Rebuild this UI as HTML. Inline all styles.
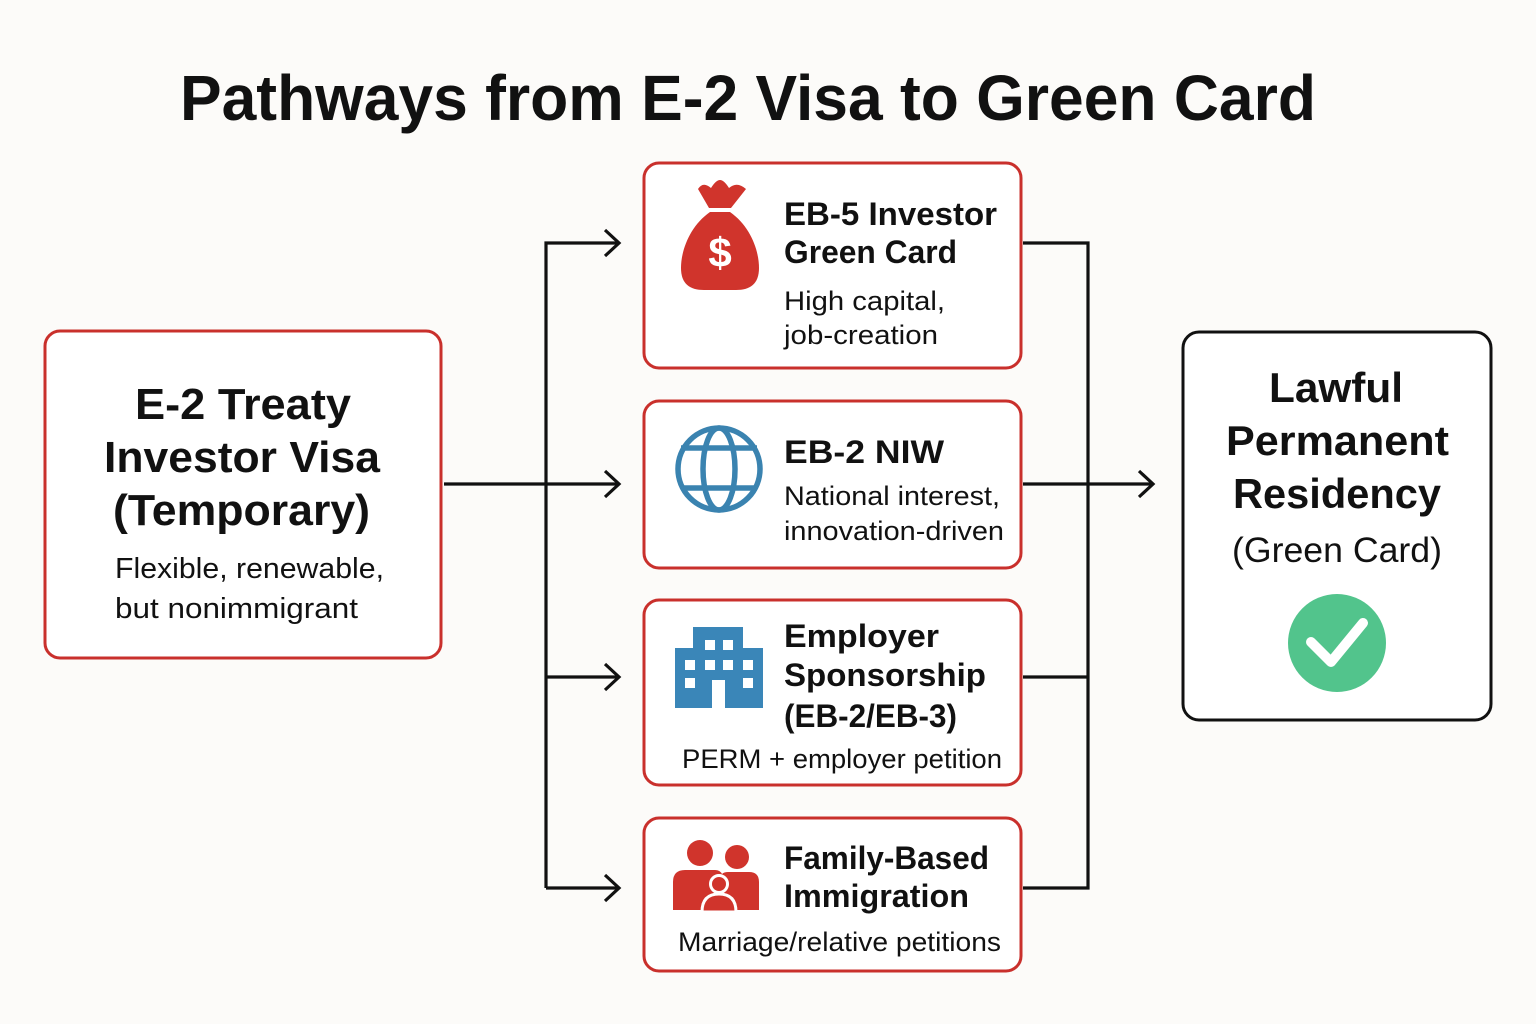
<!DOCTYPE html>
<html>
<head>
<meta charset="utf-8">
<style>
  html,body{margin:0;padding:0;background:#fcfbf9;}
  svg{display:block;}
  .b{font-family:"Liberation Sans",sans-serif;font-weight:bold;fill:#111;}
  .r{font-family:"Liberation Sans",sans-serif;font-weight:normal;fill:#111;}
</style>
</head>
<body>
<svg width="1536" height="1024" viewBox="0 0 1536 1024" xmlns="http://www.w3.org/2000/svg">
  <rect x="0" y="0" width="1536" height="1024" fill="#fcfbf9"/>

  <!-- Title -->
  <text class="b" x="180" y="120" font-size="64" textLength="1136" lengthAdjust="spacingAndGlyphs">Pathways from E-2 Visa to Green Card</text>

  <!-- Connectors -->
  <g stroke="#111" stroke-width="3.2" fill="none" stroke-linecap="butt">
    <line x1="444" y1="484" x2="619" y2="484"/>
    <polyline points="546,888 546,243 619,243"/>
    <line x1="546" y1="677" x2="619" y2="677"/>
    <line x1="546" y1="888" x2="619" y2="888"/>
    <!-- arrowheads left -->
    <polyline points="605,230 619,243 605,256"/>
    <polyline points="605,471 619,484 605,497"/>
    <polyline points="605,664 619,677 605,690"/>
    <polyline points="605,875 619,888 605,901"/>
    <!-- right side -->
    <polyline points="1023,243 1088,243 1088,888 1023,888"/>
    <line x1="1023" y1="677" x2="1088" y2="677"/>
    <line x1="1023" y1="484" x2="1153" y2="484"/>
    <polyline points="1139,471 1153,484 1139,497"/>
  </g>

  <!-- Boxes -->
  <g fill="#ffffff" stroke="#c9302c" stroke-width="3">
    <rect x="45" y="331" width="396" height="327" rx="15"/>
    <rect x="644" y="163" width="377" height="205" rx="15"/>
    <rect x="644" y="401" width="377" height="167" rx="15"/>
    <rect x="644" y="600" width="377" height="185" rx="15"/>
    <rect x="644" y="818" width="377" height="153" rx="15"/>
  </g>
  <rect x="1183" y="332" width="308" height="388" rx="16" fill="#ffffff" stroke="#111" stroke-width="3"/>

  <!-- Left box text -->
  <text class="b" x="135" y="419" font-size="44" textLength="216" lengthAdjust="spacingAndGlyphs">E-2 Treaty</text>
  <text class="b" x="104" y="472" font-size="44" textLength="276" lengthAdjust="spacingAndGlyphs">Investor Visa</text>
  <text class="b" x="113" y="525" font-size="44" textLength="257" lengthAdjust="spacingAndGlyphs">(Temporary)</text>
  <text class="r" x="115" y="578" font-size="29" textLength="269" lengthAdjust="spacingAndGlyphs">Flexible, renewable,</text>
  <text class="r" x="115" y="618" font-size="29" textLength="243" lengthAdjust="spacingAndGlyphs">but nonimmigrant</text>

  <!-- EB-5 box -->
  <g fill="#d0342c">
    <path d="M698,189 Q703,181 711,188 Q716,180 720,180 Q724,180 729,188 Q737,181 746,189 L731,208 L709,208 Z"/>
    <path d="M710,212 L730,212 C750,226 759,250 759,268 C759,284 750,290 736,290 L704,290 C690,290 681,284 681,268 C681,250 690,226 710,212 Z"/>
  </g>
  <text x="720" y="267" font-family="Liberation Sans, sans-serif" font-weight="bold" font-size="42" fill="#ffffff" text-anchor="middle">$</text>
  <text class="b" x="784" y="225" font-size="32" textLength="213" lengthAdjust="spacingAndGlyphs">EB-5 Investor</text>
  <text class="b" x="784" y="263" font-size="32" textLength="173" lengthAdjust="spacingAndGlyphs">Green Card</text>
  <text class="r" x="784" y="310" font-size="27" textLength="161" lengthAdjust="spacingAndGlyphs">High capital,</text>
  <text class="r" x="784" y="344" font-size="27" textLength="154" lengthAdjust="spacingAndGlyphs">job-creation</text>

  <!-- EB-2 NIW box -->
  <g fill="none" stroke="#3a83b0" stroke-width="5.5">
    <circle cx="719" cy="469" r="41"/>
    <ellipse cx="719" cy="469" rx="16" ry="41"/>
    <line x1="681" y1="448" x2="757" y2="448"/>
    <line x1="681" y1="488" x2="757" y2="488"/>
  </g>
  <text class="b" x="784" y="463" font-size="32" textLength="160" lengthAdjust="spacingAndGlyphs">EB-2 NIW</text>
  <text class="r" x="784" y="505" font-size="27" textLength="216" lengthAdjust="spacingAndGlyphs">National interest,</text>
  <text class="r" x="784" y="540" font-size="27" textLength="220" lengthAdjust="spacingAndGlyphs">innovation-driven</text>

  <!-- Employer box -->
  <g fill="#3a86b8">
    <rect x="693" y="627" width="50" height="81"/>
    <rect x="675" y="648" width="88" height="60"/>
  </g>
  <g fill="#ffffff">
    <rect x="705" y="640" width="10" height="10"/>
    <rect x="723" y="640" width="10" height="10"/>
    <rect x="685" y="660" width="10" height="10"/>
    <rect x="705" y="660" width="10" height="10"/>
    <rect x="723" y="660" width="10" height="10"/>
    <rect x="743" y="660" width="10" height="10"/>
    <rect x="685" y="678" width="10" height="10"/>
    <rect x="743" y="678" width="10" height="10"/>
    <rect x="712" y="680" width="13" height="28"/>
  </g>
  <text class="b" x="784" y="647" font-size="32" textLength="155" lengthAdjust="spacingAndGlyphs">Employer</text>
  <text class="b" x="784" y="686" font-size="32" textLength="202" lengthAdjust="spacingAndGlyphs">Sponsorship</text>
  <text class="b" x="784" y="727" font-size="32" textLength="173" lengthAdjust="spacingAndGlyphs">(EB-2/EB-3)</text>
  <text class="r" x="682" y="768" font-size="27" textLength="320" lengthAdjust="spacingAndGlyphs">PERM + employer petition</text>

  <!-- Family box -->
  <g fill="#d0342c">
    <circle cx="700" cy="853" r="13"/>
    <circle cx="737" cy="857" r="12"/>
    <path d="M673,910 L673,882 Q673,870 685,870 L715,870 Q720,870 722,874 Q724,872 728,872 L749,872 Q759,872 759,882 L759,910 Z"/>
  </g>
  <g fill="#d0342c" stroke="#ffffff" stroke-width="3">
    <path d="M702,912 Q702,894 719,894 Q736,894 736,912 Z"/>
    <circle cx="719" cy="884" r="8.5"/>
  </g>
  <text class="b" x="784" y="869" font-size="32" textLength="205" lengthAdjust="spacingAndGlyphs">Family-Based</text>
  <text class="b" x="784" y="907" font-size="32" textLength="185" lengthAdjust="spacingAndGlyphs">Immigration</text>
  <text class="r" x="678" y="951" font-size="27" textLength="323" lengthAdjust="spacingAndGlyphs">Marriage/relative petitions</text>

  <!-- Right box -->
  <text class="b" x="1269" y="402" font-size="42" textLength="134" lengthAdjust="spacingAndGlyphs">Lawful</text>
  <text class="b" x="1226" y="455" font-size="42" textLength="223" lengthAdjust="spacingAndGlyphs">Permanent</text>
  <text class="b" x="1233" y="508" font-size="42" textLength="208" lengthAdjust="spacingAndGlyphs">Residency</text>
  <text class="r" x="1232" y="562" font-size="35" textLength="210" lengthAdjust="spacingAndGlyphs">(Green Card)</text>
  <circle cx="1337" cy="643" r="49" fill="#52c48c"/>
  <polyline points="1311,642 1331,662 1363,623" fill="none" stroke="#ffffff" stroke-width="10" stroke-linecap="round" stroke-linejoin="round"/>
</svg>
</body>
</html>
